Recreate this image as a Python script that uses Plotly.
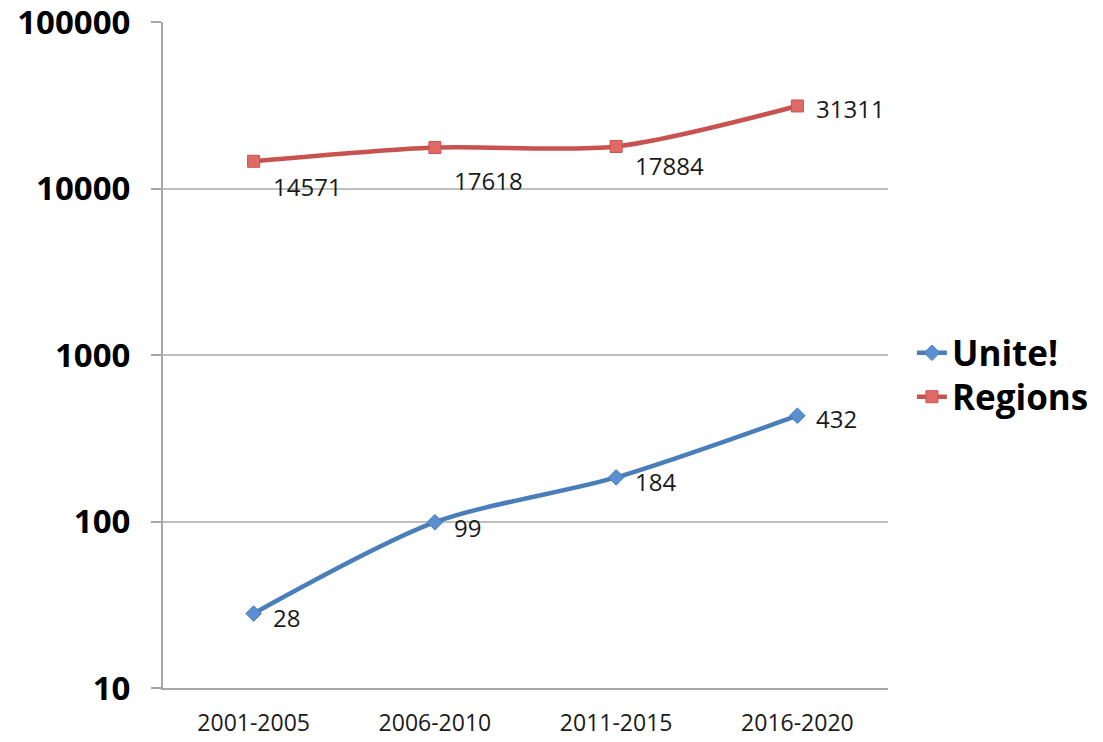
import math
import plotly.graph_objects as go

categories = ["2001-2005", "2006-2010", "2011-2015", "2016-2020"]
unite = [28, 99, 184, 432]
regions = [14571, 17618, 17884, 31311]
ytick_vals = [10, 100, 1000, 10000, 100000]
ytick_text = ["10", "100", "1000", "10000", "100000"]

# label vertical pixel shifts (style only)
unite_label_dy = [-4, -5, -4, -3]
regions_label_dy = [-25, -33, -19, -3]

BLUE = "#4A7EBB"
RED = "#C8524F"

fig = go.Figure()
fig.add_trace(go.Scatter(
    x=categories, y=unite, name="Unite!", mode="lines+markers",
    line=dict(color=BLUE, width=4.5, shape="spline", smoothing=0.8),
    marker=dict(symbol="diamond", size=12, color="#5B90D0", line=dict(color=BLUE, width=1)),
    legend="legend",
))
fig.add_trace(go.Scatter(
    x=categories, y=regions, name="Regions", mode="lines+markers",
    line=dict(color=RED, width=4.5, shape="spline", smoothing=0.8),
    marker=dict(symbol="square", size=12, color="#E06A66", line=dict(color=RED, width=1)),
    legend="legend2",
))

for series, dys in ((unite, unite_label_dy), (regions, regions_label_dy)):
    for c, v, dy in zip(categories, series, dys):
        fig.add_annotation(
            x=c, y=math.log10(v), yref="y", xref="x", text=str(v), showarrow=False,
            xanchor="left", yanchor="middle", xshift=17, yshift=dy,
            font=dict(family="Open Sans", size=24, color="#1a1a1a"),
        )

legend_font = dict(family="Open Sans", size=35, color="black", weight="bold")
fig.update_layout(
    width=1103, height=742,
    margin=dict(l=163, r=215, t=22, b=54, autoexpand=False),
    paper_bgcolor="white", plot_bgcolor="white",
    showlegend=True,
    legend=dict(x=1.033, y=0.503, xanchor="left", yanchor="middle",
                font=legend_font, itemwidth=30, bgcolor="rgba(0,0,0,0)",
                borderwidth=0, tracegroupgap=0),
    legend2=dict(x=1.033, y=0.437, xanchor="left", yanchor="middle",
                 font=legend_font, itemwidth=30, bgcolor="rgba(0,0,0,0)",
                 borderwidth=0, tracegroupgap=0),
    font=dict(family="Open Sans"),
)
fig.update_xaxes(
    type="category", range=[-0.5, 3.5], automargin=False,
    showgrid=False, showline=True, linecolor="#A6A6A6", linewidth=2,
    ticks="", tickfont=dict(family="Open Sans", size=23, color="#1a1a1a"),
    ticklabelstandoff=13,
)
fig.update_yaxes(
    type="log", range=[1, 5], automargin=False,
    tickvals=ytick_vals, ticktext=ytick_text,
    showgrid=True, gridcolor="#BFBFBF", gridwidth=1.5,
    showline=True, linecolor="#A6A6A6", linewidth=2,
    ticks="outside", ticklen=10, tickcolor="#A6A6A6", tickwidth=1.5,
    tickfont=dict(family="Open Sans", size=33, color="black", weight="bold"),
    ticklabelstandoff=14, ticklabeloverflow="allow",
    zeroline=False,
)

fig.write_html("out.html")
